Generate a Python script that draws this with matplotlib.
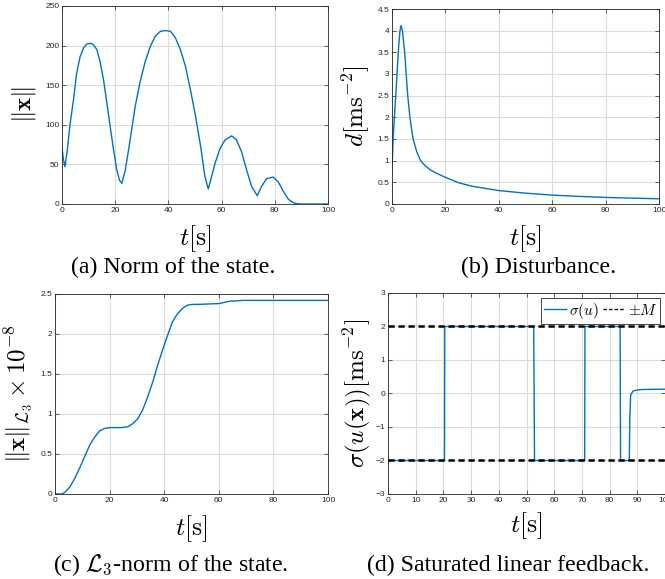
import matplotlib
matplotlib.use("Agg")
import matplotlib.pyplot as plt
from matplotlib.lines import Line2D

plt.rcParams['mathtext.fontset'] = 'cm'
plt.rcParams['font.family'] = ['Liberation Sans', 'DejaVu Sans']

BLUE = '#0072BD'
DARK = '#262626'

# (a) norm of the state
t_norm = [0, 0.5, 1.1, 2, 3, 4.3, 5.5, 6.8, 8.1, 9.3, 10.8, 11.8, 13.1, 14.3, 15.6,
          16.9, 18.1, 19.4, 20.6, 21.6, 22.5, 23.8, 25.0, 26.3, 27.5, 29.4, 31.3,
          33.2, 35.1, 37.0, 38.9, 40.8, 42.6, 44.5, 46.4, 48.3, 50.2, 52.1, 52.5,
          53.7, 55.0, 56.9, 57.5, 59.4, 61.3, 63.8, 65.6, 67.5, 69.4, 71.3, 73.4,
          75.0, 76.9, 79.4, 81.3, 83.2, 85.1, 86.9, 88.2, 90, 100]
x_norm = [71, 57, 47, 68, 100, 131, 165, 186, 197, 202, 203, 201, 195, 180, 157,
          127, 98, 68, 43, 30, 26, 43, 68, 96, 123, 155, 180,
          199, 212, 218, 219, 218, 210, 195, 174, 144, 111, 73, 64,
          35, 19, 43, 51, 70, 81, 86, 81, 66, 43, 22, 10.5,
          22, 32, 34, 28, 16, 6, 1.7, 0.4, 0, 0]

# (b) disturbance
t_dist = [0, 0.5, 1.5, 2.5, 3.0, 3.4, 3.9, 4.75, 5.3, 5.9, 6.7, 7.9, 9.3, 10.7,
          12.5, 14.5, 17, 20, 25, 30, 40, 50, 60, 70, 80, 90, 100]
d_dist = [0.82, 1.6, 2.6, 3.65, 4.0, 4.12, 4.0, 3.5, 3.0, 2.5, 2.0, 1.5, 1.2, 1.0,
          0.88, 0.78, 0.7, 0.615, 0.49, 0.41, 0.31, 0.25, 0.205, 0.175, 0.152, 0.135, 0.12]

# (c) L3 norm (x 1e-8)
t_l3 = [0, 2.4, 3.6, 5.5, 7.3, 9.1, 10.9, 12.7, 14.5, 16.4, 18.2, 20, 24.2, 26.7,
        28.5, 30.3, 32.1, 33.9, 35.8, 37.6, 39.4, 41.2, 43, 44.8, 46.7, 48.5, 50.3,
        52, 56, 60, 64, 69, 80, 100]
l3 = [0, 0, 0.02, 0.09, 0.2, 0.33, 0.47, 0.61, 0.71, 0.79, 0.82, 0.83, 0.83, 0.84,
      0.88, 0.94, 1.05, 1.21, 1.40, 1.61, 1.80, 1.98, 2.15, 2.25, 2.32, 2.36, 2.37,
      2.37, 2.375, 2.38, 2.41, 2.42, 2.42, 2.42]

# (d) saturated feedback
t_sat = [0, 20.4, 20.5, 52.6, 52.9, 71.0, 71.1, 83.8, 83.95, 87.1, 87.3, 87.6, 88.4,
         89.6, 92, 100]
u_sat = [-2, -2, 2, 2, -2, -2, 2, 2, -2, -2, -0.75, -0.05, 0.07, 0.1, 0.12, 0.13]
M = 2

W, H = 665, 579
fig = plt.figure(figsize=(W / 100, H / 100), dpi=100)


def box(l, r, t, b):
    # pixel edges -> figure fraction
    return [l / W, 1 - b / H, (r - l) / W, (b - t) / H]


def style(ax, xt, yt, ylim):
    ax.set_xlim(0, 100)
    ax.set_ylim(*ylim)
    ax.set_xticks(xt)
    ax.set_yticks(yt)
    ax.grid(True, color='#dcdcdc', linewidth=0.8)
    ax.set_axisbelow(True)
    ax.tick_params(direction='in', length=3, width=0.5, labelsize=6, colors=DARK,
                   top=True, right=True, pad=2)
    for s in ax.spines.values():
        s.set_linewidth(0.6)
        s.set_color(DARK)


ax_a = fig.add_axes(box(62, 328, 6, 204))
ax_b = fig.add_axes(box(392, 659, 9, 204))
ax_c = fig.add_axes(box(55, 328, 294, 494))
ax_d = fig.add_axes(box(388, 665, 293, 494))

ax_a.plot(t_norm, x_norm, color=BLUE, lw=1)
style(ax_a, range(0, 101, 20), range(0, 251, 50), (0, 250))
ax_a.set_ylabel(r'$\|\mathbf{x}\|$', fontsize=18)
ax_a.yaxis.set_label_coords(-0.09, 0.5)

ax_b.plot(t_dist, d_dist, color=BLUE, lw=1)
style(ax_b, range(0, 101, 20), [i * 0.5 for i in range(10)], (0, 4.5))
ax_b.set_yticklabels(['0', '0.5', '1', '1.5', '2', '2.5', '3', '3.5', '4', '4.5'])
ax_b.set_ylabel(r'$d[\mathrm{ms}^{-2}]$', fontsize=18)
ax_b.yaxis.set_label_coords(-0.075, 0.5)

ax_c.plot(t_l3, l3, color=BLUE, lw=1)
style(ax_c, range(0, 101, 20), [i * 0.5 for i in range(6)], (0, 2.5))
ax_c.set_yticklabels(['0', '0.5', '1', '1.5', '2', '2.5'])
ax_c.set_ylabel(r'$\|\mathbf{x}\|_{\mathcal{L}_3}\times10^{-8}$', fontsize=18)
ax_c.yaxis.set_label_coords(-0.075, 0.5)

ax_d.plot(t_sat, u_sat, color=BLUE, lw=1)
ax_d.axhline(M, color='black', lw=1.8, ls=(0, (2.5, 1.5)), zorder=3)
ax_d.axhline(-M, color='black', lw=1.8, ls=(0, (2.5, 1.5)), zorder=3)
style(ax_d, range(0, 101, 10), range(-3, 4), (-3, 3))
ax_d.set_ylabel(r'$\sigma(u(\mathbf{x}))[\mathrm{ms}^{-2}]$', fontsize=18)
ax_d.yaxis.set_label_coords(-0.054, 0.5)
handles = [Line2D([], [], color=BLUE, lw=1),
           Line2D([], [], color='black', lw=1, ls=(0, (2.5, 1.5)))]
leg = ax_d.legend(handles, [r'$\sigma(u)$', r'$\pm M$'], ncol=2, loc='upper right',
                  fontsize=11, frameon=True, fancybox=False, framealpha=1,
                  handlelength=1.4, handletextpad=0.2, columnspacing=0.3,
                  borderpad=0.2, borderaxespad=0.3)
leg.get_frame().set_edgecolor(DARK)
leg.get_frame().set_linewidth(0.6)

for ax, dy in [(ax_a, -0.096), (ax_b, -0.097), (ax_c, -0.095), (ax_d, -0.08)]:
    ax.set_xlabel(r'$t[\mathrm{s}]$', fontsize=18.5)
    ax.xaxis.set_label_coords(0.5, dy)

# captions under each panel
cap = dict(ha='center', va='baseline', fontsize=17.2, family='Liberation Serif')
fig.text(173 / W, 1 - 273 / H, '(a) Norm of the state.', **cap)
fig.text(539 / W, 1 - 273 / H, '(b) Disturbance.', **cap)
fig.text(171 / W, 1 - 571 / H, r'(c) $\mathcal{L}_3$-norm of the state.', **cap)
fig.text(508 / W, 1 - 571 / H, '(d) Saturated linear feedback.', **cap)

fig.savefig('out.png', dpi=100)
